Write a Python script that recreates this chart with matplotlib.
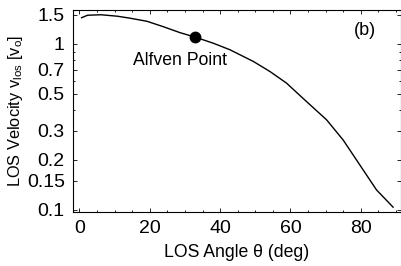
import matplotlib
matplotlib.use('Agg')
import matplotlib.pyplot as plt
from matplotlib.ticker import FixedLocator, FixedFormatter, MultipleLocator, NullFormatter

plt.rcParams['font.family'] = ['Liberation Sans', 'DejaVu Sans']
plt.rcParams['mathtext.fontset'] = 'custom'
plt.rcParams['mathtext.rm'] = 'Liberation Sans'
plt.rcParams['mathtext.it'] = 'Liberation Sans:italic'

# LOS angle (deg) and LOS velocity (units of v_o)
theta = [0.6, 2.3, 6.1, 10.8, 14.4, 19.2, 23.9, 28.6, 32.9, 38.1, 42.8, 49.5,
         54.2, 58.9, 63.7, 70.3, 75.0, 79.8, 84.5, 89.2]
v_los = [1.44, 1.49, 1.50, 1.47, 1.43, 1.37, 1.27, 1.17, 1.10, 1.01, 0.923, 0.784,
         0.682, 0.581, 0.468, 0.349, 0.264, 0.186, 0.132, 0.104]

alfven_theta = 32.9
alfven_v = 1.10

y_ticks = [0.1, 0.15, 0.2, 0.3, 0.5, 0.7, 1, 1.5]
y_labels = ['0.1', '0.15', '0.2', '0.3', '0.5', '0.7', '1', '1.5']

fig = plt.figure(figsize=(4.02, 2.66), dpi=100)
ax = fig.add_axes([0.182, 0.203, 0.815, 0.759])

ax.plot(theta, v_los, color='black', lw=1.0, solid_joinstyle='round')
ax.plot([alfven_theta], [alfven_v], 'o', color='black', ms=7.5)

ax.set_yscale('log')
ax.set_xlim(-1.8, 91.4)
ax.set_ylim(0.0972, 1.6)
ax.yaxis.set_major_locator(FixedLocator(y_ticks))
ax.yaxis.set_major_formatter(FixedFormatter(y_labels))
ax.yaxis.set_minor_formatter(NullFormatter())
ax.xaxis.set_major_locator(MultipleLocator(20))
ax.xaxis.set_minor_locator(MultipleLocator(5))

ax.tick_params(which='both', direction='in', top=True, right=True, labelsize=14, width=0.6, pad=6)
ax.tick_params(which='major', length=3)
ax.tick_params(which='minor', length=1.5)
for s in ax.spines.values():
    s.set_linewidth(0.8)

ax.set_xlabel('LOS Angle θ (deg)', fontsize=12.7, labelpad=5)
ax.set_ylabel(r'LOS Velocity v$_{\rm los}$ [v$_{\rm o}$]', fontsize=11.8, labelpad=1)

ax.text(28.5, 0.79, 'Alfven Point', fontsize=12.7, ha='center', va='center')
ax.text(0.89, 0.90, '(b)', fontsize=13, ha='center', va='center', transform=ax.transAxes)

fig.savefig('out.png', dpi=100)
